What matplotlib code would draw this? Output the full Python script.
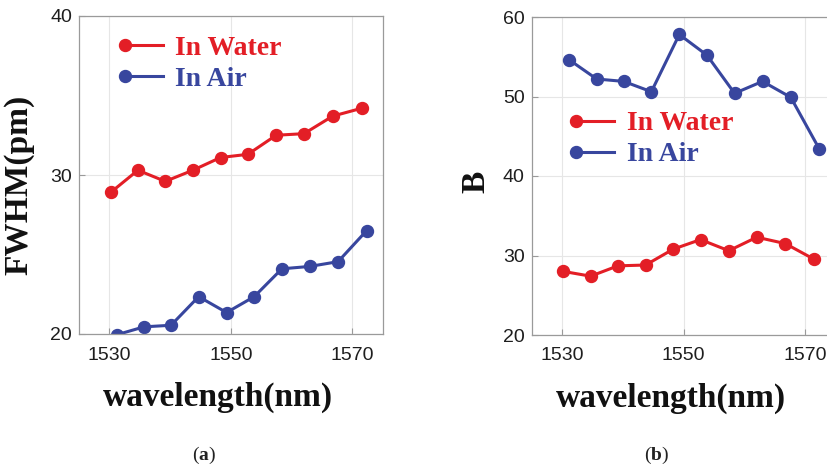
import matplotlib
matplotlib.use("Agg")
import matplotlib.pyplot as plt
from matplotlib.lines import Line2D
from matplotlib.legend_handler import HandlerLine2D

# ---------------- data ----------------
wl_water = [1530.2, 1534.7, 1539.2, 1543.75, 1548.3, 1552.8, 1557.45, 1562.05, 1566.75, 1571.55]
wl_air = [1531.2, 1535.7, 1540.15, 1544.7, 1549.3, 1553.85, 1558.4, 1563.0, 1567.65, 1572.35]

fwhm_water = [28.9, 30.3, 29.6, 30.3, 31.1, 31.3, 32.5, 32.6, 33.7, 34.2]
fwhm_air = [19.95, 20.45, 20.55, 22.35, 21.35, 22.35, 24.1, 24.25, 24.55, 26.5]

b_water = [28.0, 27.4, 28.7, 28.8, 30.8, 32.0, 30.6, 32.3, 31.5, 29.5]
b_air = [54.6, 52.2, 51.9, 50.6, 57.8, 55.2, 50.4, 51.9, 49.9, 43.4]

x_ticks = [1530, 1550, 1570]
fwhm_ticks = [20, 30, 40]
b_ticks = [20, 30, 40, 50, 60]
series_labels = ["In Water", "In Air"]
caption_letters = ["a", "b"]

RED = "#E31E26"
BLUE = "#38469E"
SERIF = "Liberation Serif"
SANS = "Liberation Sans"

plt.rcParams["mathtext.fontset"] = "custom"
plt.rcParams["mathtext.rm"] = "Liberation Serif"
plt.rcParams["mathtext.bf"] = "Liberation Serif:bold"


class HandlerLeftMarker(HandlerLine2D):
    def create_artists(self, legend, orig_handle, xdescent, ydescent,
                       width, height, fontsize, trans):
        y = height / 2 - ydescent
        line = Line2D([-xdescent, width - xdescent], [y, y],
                      color=orig_handle.get_color(), lw=orig_handle.get_linewidth())
        mk = Line2D([-xdescent], [y], linestyle="none", marker="o",
                    markersize=orig_handle.get_markersize(),
                    color=orig_handle.get_color())
        line.set_transform(trans)
        mk.set_transform(trans)
        return [line, mk]


fig = plt.figure(figsize=(8.27, 4.67), dpi=100)

W = 303.7 / 827
H = 318 / 467
ax1 = fig.add_axes([79 / 827, 1 - 334 / 467, W, H])
ax2 = fig.add_axes([531.7 / 827, 1 - 335 / 467, W, H])


def style(ax, yticks, ylim):
    ax.set_xlim(1525, 1575)
    ax.set_ylim(*ylim)
    ax.set_xticks(x_ticks)
    ax.set_yticks(yticks)
    ax.grid(True, color="#e6e6e6", lw=0.8)
    ax.set_axisbelow(True)
    for s in ax.spines.values():
        s.set_color("#9a9a9a")
        s.set_linewidth(0.9)
    ax.tick_params(axis="both", direction="in", length=4, color="#9a9a9a",
                   labelcolor="#1e1e1e", labelsize=14, top=False, right=False)
    ax.tick_params(axis="x", pad=9)
    ax.tick_params(axis="y", pad=5)
    for lab in ax.get_xticklabels() + ax.get_yticklabels():
        lab.set_fontfamily(SANS)


def draw(ax, yw, ya):
    lw, = ax.plot(wl_water, yw, "-o", color=RED, lw=2.2, markersize=8.6,
                  label=series_labels[0])
    lb, = ax.plot(wl_air, ya, "-o", color=BLUE, lw=2.2, markersize=8.6,
                  label=series_labels[1])
    return [lw, lb]


h1 = draw(ax1, fwhm_water, fwhm_air)
style(ax1, fwhm_ticks, (20, 40))
h2 = draw(ax2, b_water, b_air)
style(ax2, b_ticks, (20, 60))

for ax, handles, anchor in [(ax1, h1, (0.151, 0.940)), (ax2, h2, (0.146, 0.705))]:
    leg = ax.legend(handles=handles, loc="upper left", bbox_to_anchor=anchor,
                    frameon=False, borderpad=0, borderaxespad=0,
                    handlelength=1.37, handletextpad=0.45, labelspacing=0.2,
                    handler_map={Line2D: HandlerLeftMarker()},
                    prop={"family": SERIF, "weight": "bold", "size": 20})
    for t, c in zip(leg.get_texts(), [RED, BLUE]):
        t.set_color(c)

lab_kw = dict(fontfamily=SERIF, fontweight="bold", fontsize=24, color="#111111")
ax1.set_ylabel("FWHM(pm)", **lab_kw)
ax1.yaxis.set_label_coords(-0.148, 0.469)
ax2.set_ylabel("B", **lab_kw)
ax2.yaxis.set_label_coords(-0.134, 0.481)
for ax in (ax1, ax2):
    ax.set_xlabel("wavelength(nm)", **lab_kw)
    ax.xaxis.set_label_coords(0.458, -0.150)

for xc, letter in zip([204, 657], caption_letters):
    fig.text(xc / 827, 1 - 455 / 467, "(" + r"$\mathbf{" + letter + "}$" + ")",
             ha="center", va="center", fontfamily=SERIF, fontsize=14,
             color="#222222")

fig.savefig("out.png", dpi=100)
